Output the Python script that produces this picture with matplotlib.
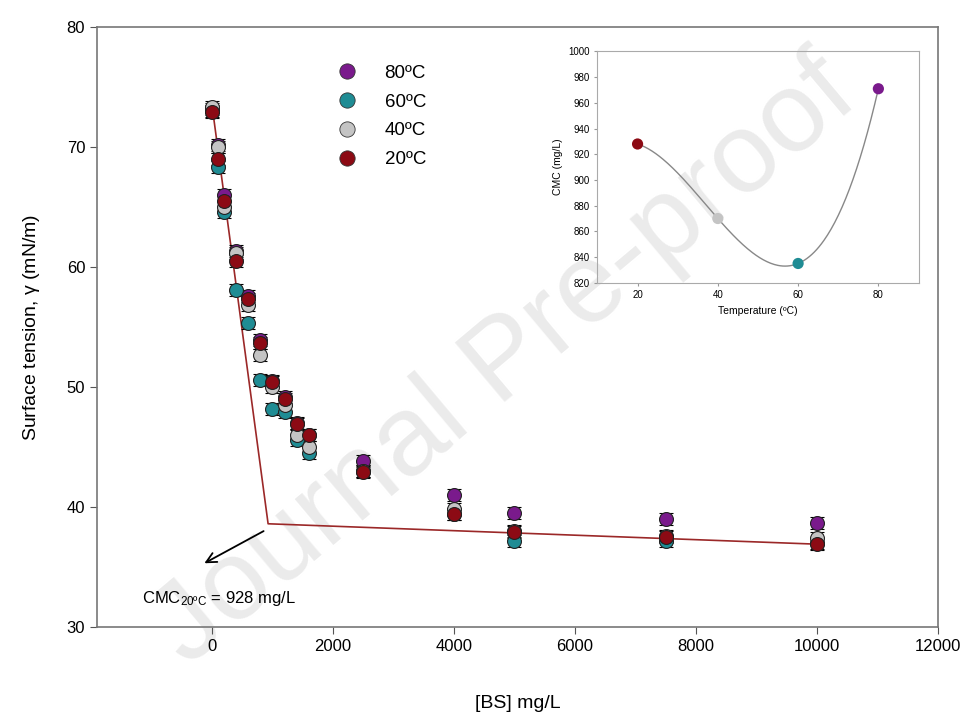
import numpy as np
import matplotlib.pyplot as plt
from matplotlib.lines import Line2D

plt.rcParams['font.family'] = ['Liberation Sans', 'DejaVu Sans']
plt.rcParams['mathtext.default'] = 'regular'

# [BS] concentrations (mg/L)
conc = [0, 100, 200, 400, 600, 800, 1000, 1200, 1400, 1600, 2500, 4000, 5000, 7500, 10000]

# surface tension (mN/m) per temperature
st_80 = [73.2, 70.2, 66.0, 61.3, 57.6, 53.9, 50.5, 49.2, 47.0, 46.0, 43.8, 41.0, 39.5, 39.0, 38.7]
st_60 = [73.0, 68.3, 64.6, 58.1, 55.3, 50.6, 48.2, 47.9, 45.6, 44.5, 43.0, 39.4, 37.2, 37.2, 37.0]
st_40 = [73.3, 70.0, 65.0, 61.2, 56.8, 52.7, 50.0, 48.5, 46.0, 45.0, 43.0, 39.8, 38.0, 37.6, 37.4]
st_20 = [72.9, 69.0, 65.5, 60.5, 57.3, 53.7, 50.4, 49.0, 46.9, 46.0, 42.9, 39.4, 37.9, 37.5, 36.9]
err = 0.5

# 20 C break-point fit line
fit_x = [0, 928, 10000]
fit_y = [73.5, 38.6, 36.9]

# inset: CMC vs temperature
temps = [20, 40, 60, 80]
cmc = [928, 870, 835, 971]

series = [("80ºC", st_80, "#7a1a8c"),
          ("60ºC", st_60, "#1f8c94"),
          ("40ºC", st_40, "#c4c4c4"),
          ("20ºC", st_20, "#8c0a14")]

fig = plt.figure(figsize=(9.73, 7.25), dpi=100)

# watermark
fig.text(0.52, 0.5, "Journal Pre-proof", fontsize=82, color="#ebebeb",
         rotation=40, ha="center", va="center", zorder=-5)

ax = fig.add_axes([0.0997, 0.1352, 0.8643, 0.8276])
ax.set_facecolor("none")
ax.plot(fit_x, fit_y, color="#9b2828", lw=1.2, zorder=2)
for lab, ys, c in series:
    ax.errorbar(conc, ys, yerr=err, fmt="o", ms=10, mfc=c, mec="#222222", mew=0.8,
                ecolor="black", elinewidth=0.8, capsize=5, capthick=1.0, zorder=3)

ax.set_xlim(-1900, 12000)
ax.set_ylim(30, 80)
ax.set_xticks([0, 2000, 4000, 6000, 8000, 10000, 12000])
ax.set_yticks([30, 40, 50, 60, 70, 80])
ax.tick_params(labelsize=12, direction="out", length=5, color="#555555")
for s in ax.spines.values():
    s.set_color("#777777")
    s.set_linewidth(1.2)
ax.set_xlabel("[BS] mg/L", fontsize=14, labelpad=30)
ax.set_ylabel("Surface tension, $\\gamma$ (mN/m)", fontsize=14, labelpad=18)

ax.annotate("", xy=(-166, 35.2), xytext=(894, 38.1),
            arrowprops=dict(arrowstyle="->", color="black", lw=1.3, mutation_scale=18))
ax.text(-1150, 32.4, "CMC$_{20ºC}$ = 928 mg/L", fontsize=12, va="center")

handles = [Line2D([], [], ls="none", marker="o", ms=11, mfc=c, mec="#333333", mew=0.6)
           for _, _, c in series]
ax.legend(handles, [s[0] for s in series], loc="upper left", bbox_to_anchor=(0.255, 0.965),
          frameon=False, fontsize=13.5, handletextpad=1.0, labelspacing=0.62)

# inset
ins = fig.add_axes([0.614, 0.610, 0.330, 0.319])
ins.set_facecolor("none")
coef = np.polyfit(temps, cmc, 3)
tt = np.linspace(20, 80, 200)
ins.plot(tt, np.polyval(coef, tt), color="#888888", lw=1.0, zorder=1)
for t, v, (_, _, c) in zip(temps, cmc, series[::-1]):
    ins.scatter(t, v, s=65, color=c, edgecolors="none", zorder=3)
ins.set_xlim(10, 90)
ins.set_ylim(820, 1000)
ins.set_xticks(temps)
ins.set_yticks(range(820, 1001, 20))
ins.tick_params(labelsize=7, length=2, color="#999999")
for s in ins.spines.values():
    s.set_color("#aaaaaa")
ins.set_xlabel("Temperature (ºC)", fontsize=7.5)
ins.set_ylabel("CMC (mg/L)", fontsize=7.5)

fig.savefig("out.png", dpi=100)
